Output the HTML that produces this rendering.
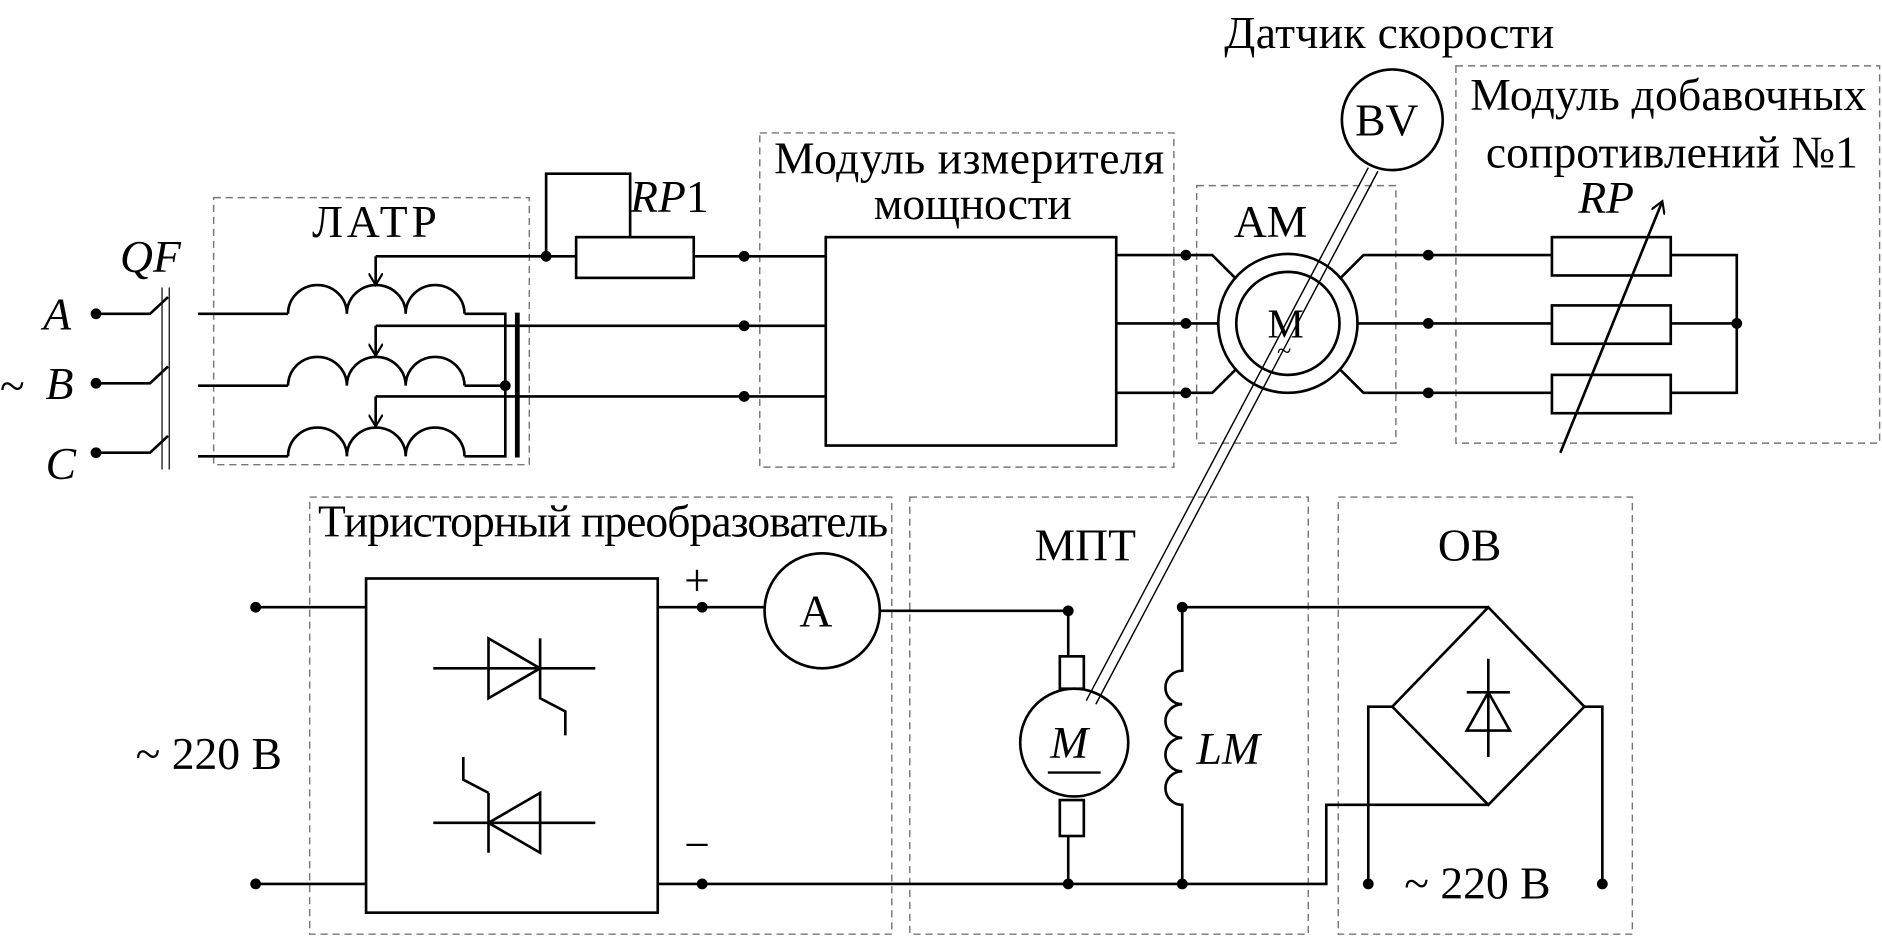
<!DOCTYPE html>
<html><head><meta charset="utf-8"><style>
html,body{margin:0;padding:0;background:#fff;}
svg{display:block}
text{font-family:"Liberation Serif",serif;fill:#000}
</style></head><body>
<svg width="1882" height="939" viewBox="0 0 1568 784" preserveAspectRatio="none" xmlns="http://www.w3.org/2000/svg">
<defs>
<marker id="ar" markerWidth="12" markerHeight="12" refX="10" refY="6" orient="auto" markerUnits="userSpaceOnUse"><path d="M0,0 L10,6 L0,12" fill="none" stroke="#000" stroke-width="1.8"/></marker>
</defs>
<g fill="none" stroke="#777" stroke-width="1.2" stroke-dasharray="6,4">
<rect x="178" y="165" width="263" height="223"/>
<rect x="633" y="111" width="345" height="279"/>
<rect x="997" y="155" width="166" height="215"/>
<rect x="1213" y="55" width="353" height="315"/>
<rect x="258" y="415" width="485" height="365"/>
<rect x="758" y="415" width="332" height="365"/>
<rect x="1115" y="415" width="245" height="365"/>
</g>
<g fill="none" stroke="#000" stroke-width="2.2">
<path d="M80,262 H125 L140,248 M80,320 H125 L140,306 M80,378 H125 L140,364"/>
<path d="M135,240 V392 M141,240 V392" stroke-width="1"/>
<path d="M165,262 H240 M165,322 H240 M165,381 H240"/>
<path d="M240,262 a24.5,24 0 0 1 49,0 a24.5,24 0 0 1 49,0 a24.5,24 0 0 1 49,0"/>
<path d="M240,322 a24.5,24 0 0 1 49,0 a24.5,24 0 0 1 49,0 a24.5,24 0 0 1 49,0"/>
<path d="M240,381 a24.5,24 0 0 1 49,0 a24.5,24 0 0 1 49,0 a24.5,24 0 0 1 49,0"/>
<path d="M387,262 H421 V381 H387 M387,322 H421"/>
<path d="M431,261 V382" stroke-width="4"/>
<path d="M313,214 V238" marker-end="url(#ar)"/>
<path d="M313,272 V297" marker-end="url(#ar)"/>
<path d="M313,331 V356" marker-end="url(#ar)"/>
<path d="M313,214 H480 M313,272 H688 M313,331 H688"/>
<path d="M455,214 V145 H525 V198"/>
<rect x="480" y="198" width="98" height="34"/>
<path d="M578,214 H688"/>
<rect x="688" y="198" width="242" height="174"/>
<path d="M930,213 H1010 L1030,233 M930,270 H1015 M930,328 H1010 L1030,308"/>
<circle cx="1073" cy="270" r="58"/>
<circle cx="1073" cy="270" r="43"/>
<path d="M1116,233 L1136,213 H1293 M1131,270 H1293 M1116,308 L1136,328 H1293"/>
<rect x="1293" y="198" width="99" height="32"/>
<rect x="1293" y="255" width="99" height="32"/>
<rect x="1293" y="313" width="99" height="32"/>
<path d="M1392,213 H1447 V328 H1392 M1392,270 H1447"/>
<path d="M1300,378 L1385,168" marker-end="url(#ar)"/>
<circle cx="1160" cy="100" r="42"/>
<path d="M213,507 H305 M213,738 H305"/>
<rect x="305" y="483" width="243" height="279"/>
<path d="M548,507 H637 M733,510 H890 V548 M548,738 H985"/>
<circle cx="685" cy="510" r="48"/>
<rect x="883" y="548" width="20" height="27"/>
<circle cx="895" cy="620" r="45"/>
<rect x="883" y="668" width="20" height="30"/>
<path d="M890,698 V738"/>
<path d="M985,507 V560 a14,14 0 0 0 0,28 a14,14 0 0 0 0,28 a14,14 0 0 0 0,28 a14,14 0 0 0 0,28 V738"/>
<path d="M985,507 H1240"/>
<path d="M1240,507 L1320,590 L1240,672 L1160,590 Z"/>
<path d="M985,738 H1105 V672 H1240"/>
<path d="M1160,590 H1140 V738 M1320,590 H1335 V738"/>
<path d="M1240,550 V632 M1222,610 H1258 L1240,578 Z M1222,578 H1258"/>
<path d="M361,558 H496 M407,533 V583 L450,558 Z M450,533 V583 L471,594 V614"/>
<path d="M361,687 H496 M450,662 V712 L407,687 Z M407,662 V712 M407,662 L386,651 V632"/>
<path d="M1140,140 L905,585 M1148,143 L913,588" stroke-width="1.2"/>
</g>
<g fill="#000">
<circle cx="80" cy="262" r="4.5"/><circle cx="80" cy="320" r="4.5"/><circle cx="80" cy="378" r="4.5"/>
<circle cx="421" cy="322" r="4.5"/><circle cx="455" cy="214" r="4.5"/>
<circle cx="620" cy="214" r="4.5"/><circle cx="620" cy="272" r="4.5"/><circle cx="620" cy="331" r="4.5"/>
<circle cx="988" cy="213" r="4.5"/><circle cx="988" cy="270" r="4.5"/><circle cx="988" cy="328" r="4.5"/>
<circle cx="1190" cy="213" r="4.5"/><circle cx="1190" cy="270" r="4.5"/><circle cx="1190" cy="328" r="4.5"/>
<circle cx="1447" cy="270" r="4.5"/>
<circle cx="213" cy="507" r="4.5"/><circle cx="213" cy="738" r="4.5"/>
<circle cx="585" cy="507" r="4.5"/><circle cx="585" cy="738" r="4.5"/>
<circle cx="890" cy="510" r="4.5"/><circle cx="890" cy="738" r="4.5"/>
<circle cx="985" cy="507" r="4.5"/><circle cx="985" cy="738" r="4.5"/>
<circle cx="1140" cy="738" r="4.5"/><circle cx="1335" cy="738" r="4.5"/>
</g>
<g font-size="38">
<text x="36" y="275" font-style="italic">A</text>
<text x="38" y="333" font-style="italic">B</text>
<text x="38" y="400" font-style="italic">C</text>
<text x="0" y="335">~</text>
<text x="100" y="227" font-style="italic">QF</text>
<text x="260" y="198" textLength="104">ЛАТР</text>
<text x="525" y="177" font-style="italic">RP<tspan font-style="normal">1</tspan></text>
<text x="645" y="145" textLength="325">Модуль измерителя</text>
<text x="728" y="183" textLength="165">мощности</text>
<text x="1020" y="40" textLength="275">Датчик скорости</text>
<text x="1129" y="113">BV</text>
<text x="1028" y="198">АМ</text>
<text x="1056" y="282" font-size="34">M</text>
<text x="1064" y="300" font-size="22">~</text>
<text x="1225" y="92" textLength="330">Модуль добавочных</text>
<text x="1238" y="140" textLength="310">сопротивлений №1</text>
<text x="1315" y="178" font-style="italic">RP</text>
<text x="265" y="448" textLength="475">Тиристорный преобразователь</text>
<text x="570" y="497">+</text>
<text x="570" y="718">−</text>
<text x="666" y="523">A</text>
<text x="113" y="642">~ 220 В</text>
<text x="862" y="468">МПТ</text>
<text x="875" y="633" font-style="italic">M</text>
<path d="M873,645 H917" stroke="#000" stroke-width="2"/>
<text x="997" y="638" font-style="italic">LM</text>
<text x="1198" y="468">ОВ</text>
<text x="1170" y="750">~ 220 В</text>
</g>
</svg>
</body></html>
